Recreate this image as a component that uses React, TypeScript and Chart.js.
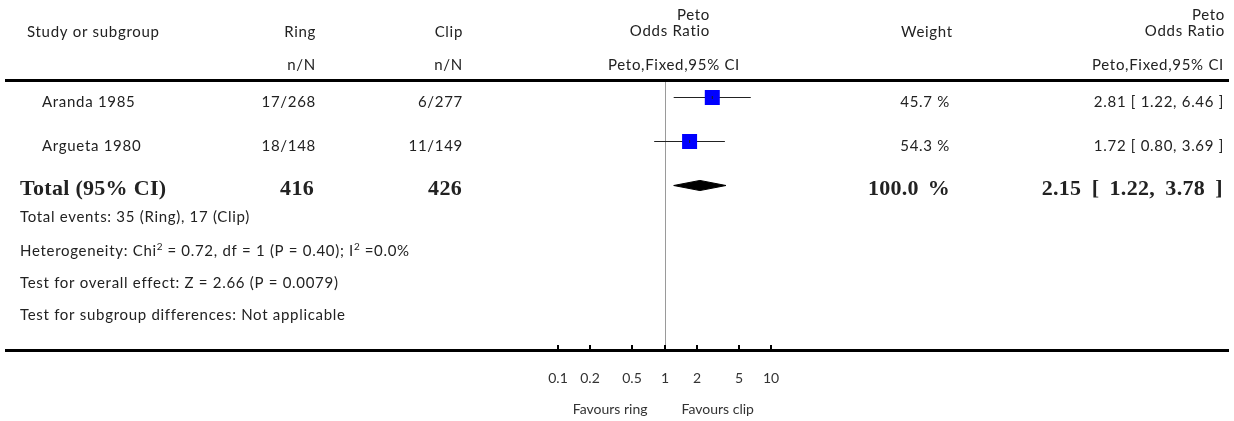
import { useEffect, useRef } from "react";
import { Chart, registerables } from "chart.js";

Chart.register(...registerables);

// Study-level data
const studyNames = ["Aranda 1985", "Argueta 1980"];
const ringEvents = [17, 18];
const ringTotals = [268, 148];
const clipEvents = [6, 11];
const clipTotals = [277, 149];
const weights = [45.7, 54.3];
const oddsRatios = [2.81, 1.72];
const ciLower = [1.22, 0.8];
const ciUpper = [6.46, 3.69];

// Pooled (Peto, fixed effect) estimate: [OR, lower, upper]
const pooledEstimate = [2.15, 1.22, 3.78];
const totalLabel = "Total (95% CI)";

// Axis ticks
const axisTicks = [0.1, 0.2, 0.5, 1, 2, 5, 10];
const axisTickLabels = ["0.1", "0.2", "0.5", "1", "2", "5", "10"];
const favoursLeft = "Favours ring";
const favoursRight = "Favours clip";

type Face = { font: string; spacing: string; words?: string };
const SANS: Face = { font: '15px Lato, "Open Sans", sans-serif', spacing: "0.7px" };
const SANS_SMALL: Face = { font: '10px Lato, "Open Sans", sans-serif', spacing: "0.3px" };
const AXIS: Face = { font: '14px Lato, "Open Sans", sans-serif', spacing: "0px" };
const BOLD: Face = { font: 'bold 22px "Liberation Serif", "DejaVu Serif", serif', spacing: "0.3px" };
const BOLD_WEIGHT: Face = { ...BOLD, words: "3px" };
const BOLD_CI: Face = { ...BOLD, words: "4.5px" };
const INK = "#222";

const sum = (a: number[]) => a.reduce((s, v) => s + v, 0);
const fmtCI = (or: number, lo: number, hi: number) =>
  `${or.toFixed(2)} [ ${lo.toFixed(2)}, ${hi.toFixed(2)} ]`;

function setFace(ctx: CanvasRenderingContext2D, f: Face) {
  ctx.font = f.font;
  (ctx as any).letterSpacing = f.spacing;
  (ctx as any).wordSpacing = f.words ?? "0px";
}

function text(
  ctx: CanvasRenderingContext2D,
  s: string,
  x: number,
  y: number,
  align: CanvasTextAlign,
  face: Face = SANS,
  color = INK
) {
  setFace(ctx, face);
  ctx.fillStyle = color;
  ctx.textAlign = align;
  ctx.textBaseline = "alphabetic";
  ctx.fillText(s, x, y);
}

// Draws a run of segments, some of them superscript, starting at x
function richText(
  ctx: CanvasRenderingContext2D,
  parts: { t: string; sup?: boolean }[],
  x: number,
  y: number
) {
  ctx.textAlign = "left";
  ctx.textBaseline = "alphabetic";
  ctx.fillStyle = INK;
  let cx = x;
  for (const p of parts) {
    setFace(ctx, p.sup ? SANS_SMALL : SANS);
    ctx.fillText(p.t, cx, p.sup ? y - 6 : y);
    cx += ctx.measureText(p.t).width;
  }
}

const forestDecor = {
  id: "forestDecor",
  beforeDatasetsDraw(chart: any) {
    const ctx: CanvasRenderingContext2D = chart.ctx;
    const xs = chart.scales.x;
    const x1 = Math.round(xs.getPixelForValue(1)) + 0.5;
    ctx.save();
    ctx.strokeStyle = "#9a9a9a";
    ctx.lineWidth = 1;
    ctx.beginPath();
    ctx.moveTo(x1, 82);
    ctx.lineTo(x1, 349);
    ctx.stroke();
    ctx.restore();
  },
  afterDraw(chart: any) {
    const ctx: CanvasRenderingContext2D = chart.ctx;
    const xs = chart.scales.x;
    const ys = chart.scales.y;
    ctx.save();

    // Header
    text(ctx, "Study or subgroup", 27, 37, "left");
    text(ctx, "Ring", 316, 37, "right");
    text(ctx, "Clip", 463, 37, "right");
    text(ctx, "n/N", 316, 70, "right");
    text(ctx, "n/N", 463, 70, "right");
    text(ctx, "Peto", 710, 20, "right");
    text(ctx, "Odds Ratio", 710, 36, "right");
    text(ctx, "Peto,Fixed,95% CI", 674, 70, "center");
    text(ctx, "Weight", 901, 37, "left");
    text(ctx, "Peto", 1225, 20, "right");
    text(ctx, "Odds Ratio", 1225, 36, "right");
    text(ctx, "Peto,Fixed,95% CI", 1224, 70, "right");

    // Header rule and bottom rule
    ctx.fillStyle = "#000";
    ctx.fillRect(5, 79, 1224, 3);
    ctx.fillRect(5, 349, 1224, 3);

    // Study rows
    studyNames.forEach((name, i) => {
      const by = ys.getPixelForValue(i) + 9;
      text(ctx, name, 42, by, "left");
      text(ctx, `${ringEvents[i]}/${ringTotals[i]}`, 316, by, "right");
      text(ctx, `${clipEvents[i]}/${clipTotals[i]}`, 463, by, "right");
      text(ctx, `${weights[i].toFixed(1)} %`, 950, by, "right");
      text(ctx, fmtCI(oddsRatios[i], ciLower[i], ciUpper[i]), 1224, by, "right");
    });

    // Total row
    const ty = ys.getPixelForValue(studyNames.length) + 9.5;
    text(ctx, totalLabel, 20, ty, "left", BOLD);
    text(ctx, String(sum(ringTotals)), 314, ty, "right", BOLD);
    text(ctx, String(sum(clipTotals)), 462, ty, "right", BOLD);
    text(ctx, `${sum(weights).toFixed(1)} %`, 950, ty, "right", BOLD_WEIGHT);
    text(ctx, fmtCI(pooledEstimate[0], pooledEstimate[1], pooledEstimate[2]), 1223, ty, "right", BOLD_CI);

    // Summary statistics
    text(ctx, `Total events: ${sum(ringEvents)} (Ring), ${sum(clipEvents)} (Clip)`, 20, 222, "left");
    richText(ctx, [
      { t: "Heterogeneity: Chi" },
      { t: "2", sup: true },
      { t: " = 0.72, df = 1 (P = 0.40); I" },
      { t: "2", sup: true },
      { t: " =0.0%" },
    ], 20, 256);
    text(ctx, "Test for overall effect: Z = 2.66 (P = 0.0079)", 20, 288, "left");
    text(ctx, "Test for subgroup differences: Not applicable", 20, 320, "left");

    // Axis ticks and labels
    axisTicks.forEach((v, i) => {
      const px = Math.round(xs.getPixelForValue(v));
      ctx.fillStyle = "#000";
      ctx.fillRect(px - 1, 345, 2, 5);
      text(ctx, axisTickLabels[i], px, 383, "center", AXIS, "#333");
    });
    const c = xs.getPixelForValue(1);
    text(ctx, favoursLeft, c - 17, 414, "right", AXIS, "#333");
    text(ctx, favoursRight, c + 17, 414, "left", AXIS, "#333");

    ctx.restore();
  },
};

export default function App() {
  const ref = useRef<HTMLCanvasElement>(null);

  useEffect(() => {
    const canvas = ref.current;
    if (!canvas) return;
    const totalRow = studyNames.length;
    const diamondHalf = 0.115;

    const whiskers = studyNames.map((_, i) => ({
      data: [
        { x: ciLower[i], y: i },
        { x: ciUpper[i], y: i },
      ],
      showLine: true,
      borderColor: "#222",
      borderWidth: 1,
      pointRadius: 0,
      order: 3,
    }));

    const chart = new Chart(canvas, {
      type: "scatter",
      data: {
        datasets: [
          ...whiskers,
          {
            data: oddsRatios.map((v, i) => ({ x: v, y: i })),
            pointStyle: "rect",
            pointRadius: 10.6,
            backgroundColor: "#0000ff",
            borderWidth: 0,
            order: 2,
          },
          {
            data: oddsRatios.map((v, i) => ({ x: v, y: i })),
            pointStyle: "line",
            rotation: 90,
            pointRadius: 1.5,
            borderColor: "#222",
            borderWidth: 1,
            order: 1,
          },
          {
            data: [
              { x: pooledEstimate[1], y: totalRow },
              { x: pooledEstimate[0], y: totalRow - diamondHalf },
              { x: pooledEstimate[2], y: totalRow },
              { x: pooledEstimate[0], y: totalRow + diamondHalf },
              { x: pooledEstimate[1], y: totalRow },
            ],
            showLine: true,
            fill: "shape",
            backgroundColor: "#000",
            borderColor: "#000",
            borderWidth: 1,
            pointRadius: 0,
            order: 0,
          },
        ] as any,
      },
      options: {
        responsive: false,
        devicePixelRatio: 1,
        animation: false,
        events: [],
        layout: { padding: { left: 558, right: 463, top: 75.5, bottom: 213.5 } },
        scales: {
          x: { type: "logarithmic", min: 0.1, max: 10, display: false },
          y: { type: "linear", min: -0.5, max: 2.5, reverse: true, display: false },
        },
        plugins: {
          legend: { display: false },
          tooltip: { enabled: false },
        },
      },
      plugins: [forestDecor],
    });

    return () => chart.destroy();
  }, []);

  return (
    <div style={{ position: "fixed", left: 0, top: 0, width: 1234, height: 421, background: "#fff" }}>
      <canvas ref={ref} width={1234} height={421} style={{ display: "block" }} />
    </div>
  );
}
